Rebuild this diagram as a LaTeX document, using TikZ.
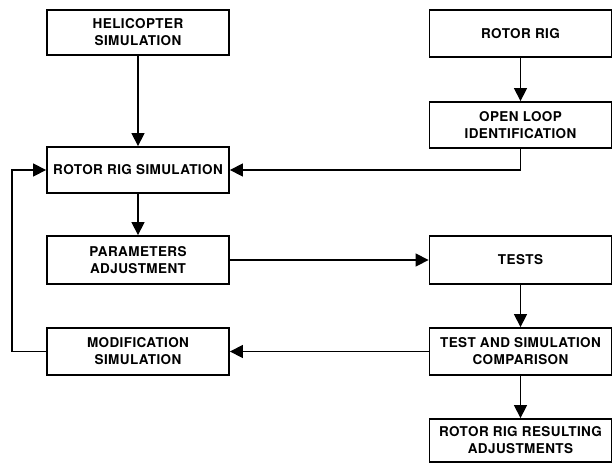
\documentclass[tikz,border=0pt]{standalone}
\usepackage{fontspec}
\setmainfont{TeX Gyre Heros}[LetterSpace=3]
\usetikzlibrary{arrows.meta}
\begin{document}
\begin{tikzpicture}[x=1pt,y=-1pt,
  box/.style={draw,line width=1.8pt,minimum width=182pt,inner sep=0pt,align=center,
    font=\fontsize{13.5}{17}\selectfont\bfseries},
  conn/.style={line width=1.3pt,-{Triangle[length=13pt,width=13pt]}}]
\useasboundingbox (0,0) rectangle (612,463);
% left column
\node[box,minimum height=45pt] (heli) at (138,32.5) {HELICOPTER\\SIMULATION};
\node[box,minimum height=46pt] (rrs) at (138,170) {ROTOR RIG SIMULATION};
\node[box,minimum height=48pt] (pa) at (138,260) {PARAMETERS\\ADJUSTMENT};
\node[box,minimum height=47pt] (ms) at (138,351.5) {MODIFICATION\\SIMULATION};
% right column
\node[box,minimum height=47pt] (rr) at (520.5,33.5) {ROTOR RIG};
\node[box,minimum height=46pt] (ol) at (520.5,125) {OPEN LOOP\\IDENTIFICATION};
\node[box,minimum height=48pt] (tests) at (520.5,260) {TESTS};
\node[box,minimum height=47pt] (tsc) at (520.5,351.5) {TEST AND SIMULATION\\COMPARISON};
\node[box,minimum height=43pt] (rrra) at (520.5,440.5) {ROTOR RIG RESULTING\\ADJUSTMENTS};
\coordinate (lft) at (12,0);
% connectors
\draw[conn] (heli) -- (rrs);
\draw[conn] (rr) -- (ol);
\draw[conn] (ol.south) |- (rrs.east);
\draw[conn] (rrs) -- (pa);
\draw[conn] (pa) -- (tests);
\draw[conn] (tests) -- (tsc);
\draw[conn] (tsc) -- (ms);
\draw[conn] (tsc) -- (rrra);
\draw[conn] (ms.west) -| (lft |- rrs.west) -- (rrs.west);
\end{tikzpicture}
\end{document}
